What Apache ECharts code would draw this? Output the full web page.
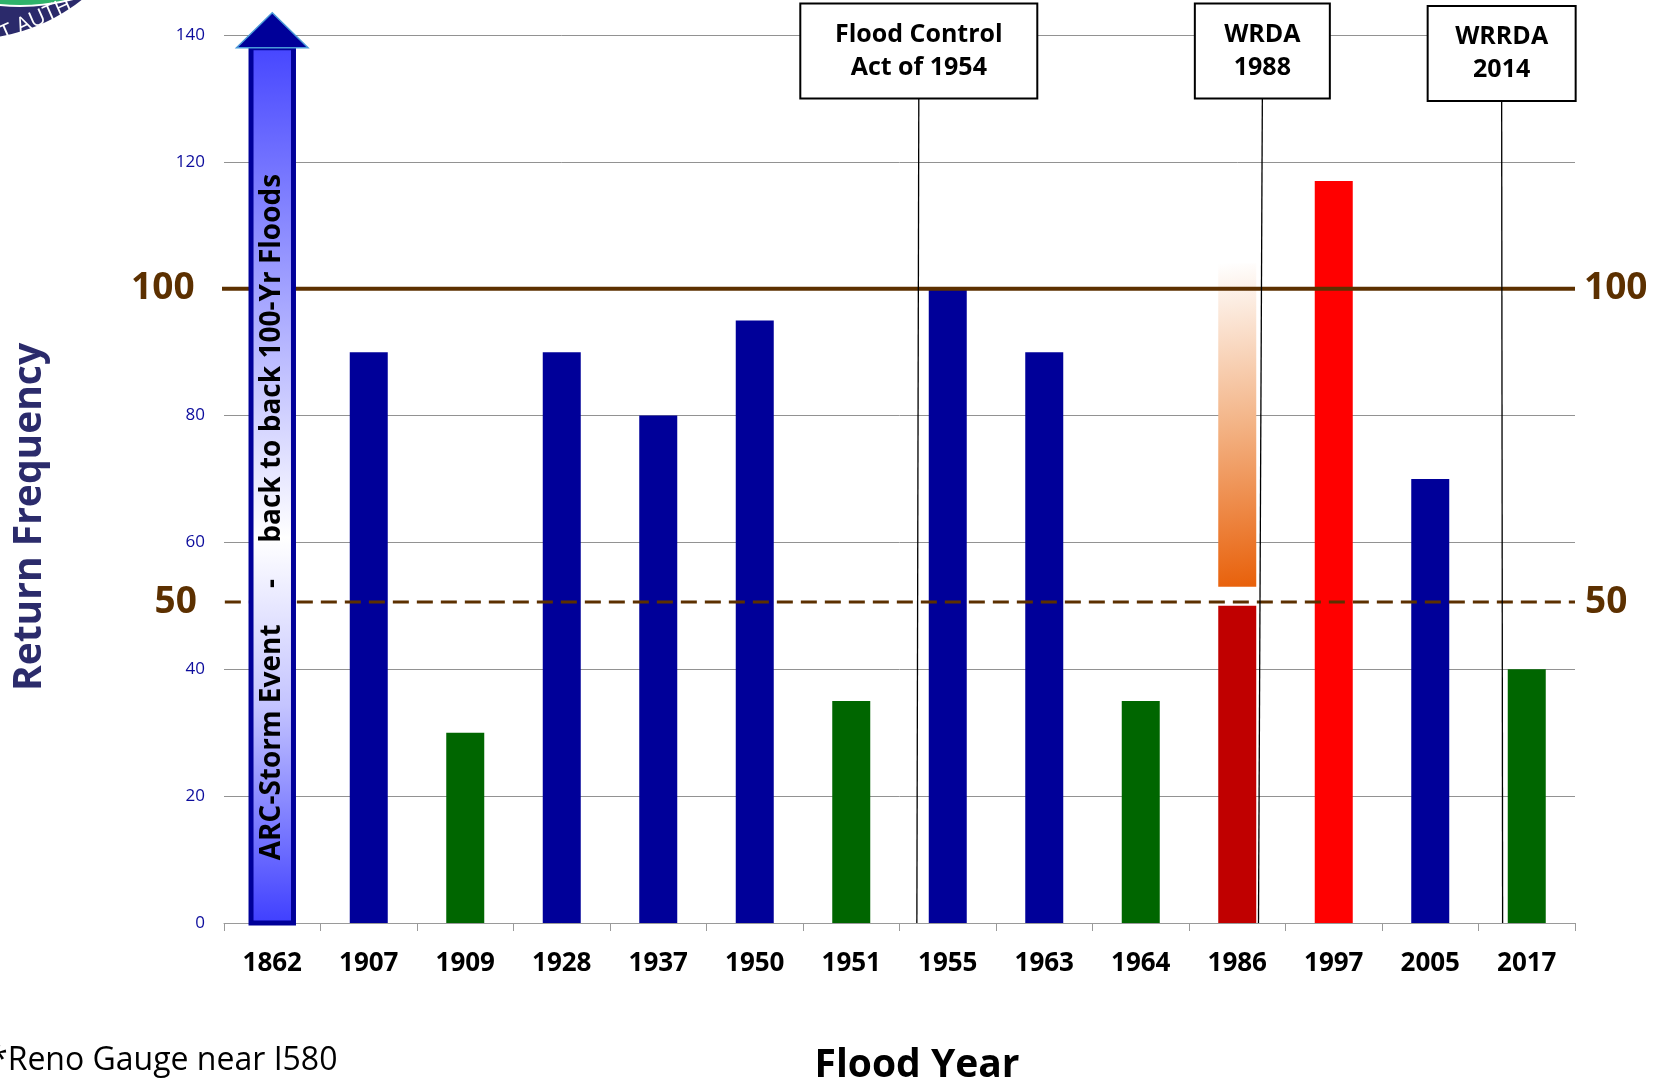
<!DOCTYPE html>
<html><head><meta charset="utf-8">
<script src="https://cdn.jsdelivr.net/npm/echarts@6/dist/echarts.min.js"></script>
<style>html,body{margin:0;padding:0;background:#fff;overflow:hidden}#c{width:1666px;height:1083px}</style>
</head><body><div id="c"></div>
<script>
// ---------- data ----------
const years = ['1862','1907','1909','1928','1937','1950','1951','1955','1963','1964','1986','1997','2005','2017'];
const returnFrequency = [138, 90, 30, 90, 80, 95, 35, 100, 90, 35, 50, 117, 70, 40];
const barKind = ['arrow','major','minor','major','major','major','minor','major','major','minor','dark','extreme','major','minor'];
const arrowTipValue = 143.5;
const arrowText = 'ARC-Storm Event     -     back to back 100-Yr Floods';
const bandYear = '1986';
const bandRange = [53, 104];
const yTicks = [0, 20, 40, 60, 80, 100, 120, 140];
const thresholdSolid = 100;
const thresholdDashed = 50;
const dashedLineLevel = 50.6;
const actLabels = ['Flood Control\nAct of 1954', 'WRDA\n1988', 'WRRDA\n2014'];
const actXTop = [6.70, 10.26, 12.74];
const actXBottom = [6.68, 10.22, 12.75];
const actLineTop = [130, 130, 129.6];
const footnote = '*Reno Gauge near I580';

// ---------- styles ----------
const kindColor = {major:'#000099', minor:'#006600', dark:'#c00000', extreme:'#ff0000', arrow:'transparent'};
const actBoxWidth = [237, 135, 148];
const actBoxHeight = 95;
const brown = '#5c3000';
const sans = "'Open Sans',sans-serif";

const chart = echarts.init(document.getElementById('c'), null, {renderer:'canvas'});
const n = years.length;

const barData = returnFrequency.map((v, i) => barKind[i] === 'arrow' ? '-' :
  {value: v, itemStyle: {color: kindColor[barKind[i]]}});

const bandIdx = years.indexOf(bandYear);
const bigLabel = (txt, pos, dist) => ({show: true, position: pos, distance: dist, formatter: txt,
  color: brown, fontSize: 37, fontWeight: 'bold', fontFamily: sans});

const option = {
  animation: false,
  backgroundColor: '#fff',
  grid: {left: 224, right: 91, top: 35, bottom: 160, containLabel: false},
  xAxis: [{
    type: 'category', data: years,
    axisLine: {show: true, lineStyle: {color: '#9a9a9a', width: 1}},
    axisTick: {show: true, length: 8, lineStyle: {color: '#9a9a9a'}},
    axisLabel: {color: '#000', fontWeight: 'bold', fontSize: 26, fontFamily: sans, margin: 28}
  }, {
    type: 'value', min: -0.5, max: n - 0.5, show: false
  }],
  yAxis: {
    type: 'value', min: 0, max: 140, interval: 20,
    axisLine: {show: true, lineStyle: {color: '#d6d6d6', width: 2}},
    axisTick: {show: true, length: 8, lineStyle: {color: '#9a9a9a'}},
    axisLabel: {color: '#0c0c9c', fontSize: 17, fontFamily: sans, margin: 19,
      formatter: v => (yTicks.includes(v) && v !== thresholdSolid) ? String(v) : ''},
    splitLine: {show: true, lineStyle: {color: '#929292', width: 1}}
  },
  series: [
    {
      type: 'bar', data: barData, barWidth: 38, z: 2
    },
    {
      type: 'custom', z: 3, clip: false,
      data: returnFrequency.map((v, i) => [i, v]),
      renderItem(params, api) {
        const i = api.value(0);
        if (i !== bandIdx) return null;
        const w = 38;
        const p0 = api.coord([i, bandRange[0]]);
        const p1 = api.coord([i, bandRange[1]]);
        return {
          type: 'rect',
          shape: {x: p0[0] - w / 2, y: p1[1], width: w, height: p0[1] - p1[1]},
          style: {fill: new echarts.graphic.LinearGradient(0, 0, 1, 1, [
            {offset: 0, color: '#ffffff'}, {offset: 0.5, color: '#f3b385'}, {offset: 1, color: '#e8600a'}])}
        };
      }
    },
    {
      type: 'line', xAxisIndex: 1, z: 4, clip: false,
      symbol: 'circle', symbolSize: 0.1, showSymbol: true,
      lineStyle: {color: brown, width: 4},
      data: [
        {value: [-0.68, thresholdSolid], label: bigLabel(String(thresholdSolid), 'left', 12)},
        {value: [n - 0.5, thresholdSolid], label: bigLabel(String(thresholdSolid), 'right', 9)}
      ]
    },
    {
      type: 'line', xAxisIndex: 1, z: 4, clip: false,
      symbol: 'circle', symbolSize: 0.1, showSymbol: true,
      lineStyle: {color: brown, width: 3, type: [16, 8]},
      data: [
        {value: [-0.74, dashedLineLevel], label: bigLabel(String(thresholdDashed), 'left', 4)},
        {value: [n - 0.5, dashedLineLevel], label: bigLabel(String(thresholdDashed), 'right', 10)}
      ]
    },
    {
      type: 'custom', z: 6, clip: false,
      data: returnFrequency.map((v, i) => [i, v]),
      renderItem(params, api) {
        const i = api.value(0);
        if (barKind[i] !== 'arrow') return null;
        const bw = api.size([1, 0])[0];
        const w = bw * 0.44, hw = bw * 0.74;
        const base = api.coord([i, 0]);
        const top = api.coord([i, api.value(1)]);
        const tip = api.coord([i, arrowTipValue]);
        const mid = api.coord([i, 64]);
        const cx = base[0];
        return {
          type: 'group', children: [
            {type: 'rect', shape: {x: cx - w / 2, y: top[1], width: w, height: base[1] - top[1]},
              style: {fill: new echarts.graphic.LinearGradient(0, 0, 0, 1, [
                {offset: 0, color: '#4646ff'}, {offset: 0.3, color: '#a9a9ff'}, {offset: 0.56, color: '#ffffff'},
                {offset: 0.75, color: '#c4c4ff'}, {offset: 1, color: '#3e3eff'}]),
                stroke: '#000099', lineWidth: 5}},
            {type: 'polygon', shape: {points: [[cx - hw / 2, top[1]], [cx + hw / 2, top[1]], [cx, tip[1]]]},
              style: {fill: '#000099', stroke: '#4a9ad8', lineWidth: 1.5}},
            {type: 'text', x: cx, y: mid[1], rotation: Math.PI / 2,
              style: {text: arrowText, fill: '#000', font: "bold 28px " + sans, align: 'center', verticalAlign: 'middle'}}
          ]
        };
      }
    },
    {
      type: 'custom', xAxisIndex: 1, z: 7, clip: false,
      data: actLabels.map((t, k) => [actXTop[k], actXBottom[k], actLineTop[k], k]),
      renderItem(params, api) {
        const k = api.value(3);
        const pTop = api.coord([api.value(0), api.value(2)]);
        const pBot = api.coord([api.value(1), 0]);
        const bw = actBoxWidth[k];
        return {
          type: 'group', children: [
            {type: 'line', shape: {x1: pTop[0], y1: pTop[1], x2: pBot[0], y2: pBot[1]}, style: {stroke: '#000', lineWidth: 1.3}},
            {type: 'rect', shape: {x: pTop[0] - bw / 2, y: pTop[1] - actBoxHeight, width: bw, height: actBoxHeight},
              style: {fill: '#fff', stroke: '#000', lineWidth: 2}},
            {type: 'text', x: pTop[0], y: pTop[1] - actBoxHeight / 2,
              style: {text: actLabels[k], fill: '#000', font: "bold 25px " + sans, align: 'center', verticalAlign: 'middle',
                lineHeight: 33}}
          ]
        };
      }
    }
  ],
  graphic: [
    {type: 'circle', shape: {cx: -30, cy: -140, r: 179}, style: {fill: '#2b2a6b'}, z: 1},
    {type: 'circle', shape: {cx: 20, cy: -200, r: 206}, style: {fill: '#2fb36a', stroke: '#fff', lineWidth: 2}, z: 1},
    {type: 'text', x: 36, y: 20, rotation: 0.42, style: {text: 'T AUTH', fill: '#fff', font: "22px " + sans, align: 'center', verticalAlign: 'middle'}, z: 2},
    {type: 'text', x: 30, y: 517, rotation: Math.PI / 2,
      style: {text: 'Return Frequency', fill: '#2b2b6b', font: "bold 39px " + sans, align: 'center', verticalAlign: 'middle'}},
    {type: 'text', x: 917, y: 1066,
      style: {text: 'Flood Year', fill: '#000', font: "bold 39px " + sans, align: 'center', verticalAlign: 'middle'}},
    {type: 'text', x: -10, y: 1061,
      style: {text: footnote, fill: '#000', font: "32px " + sans, align: 'left', verticalAlign: 'middle'}}
  ]
};
chart.setOption(option);
</script></body></html>
